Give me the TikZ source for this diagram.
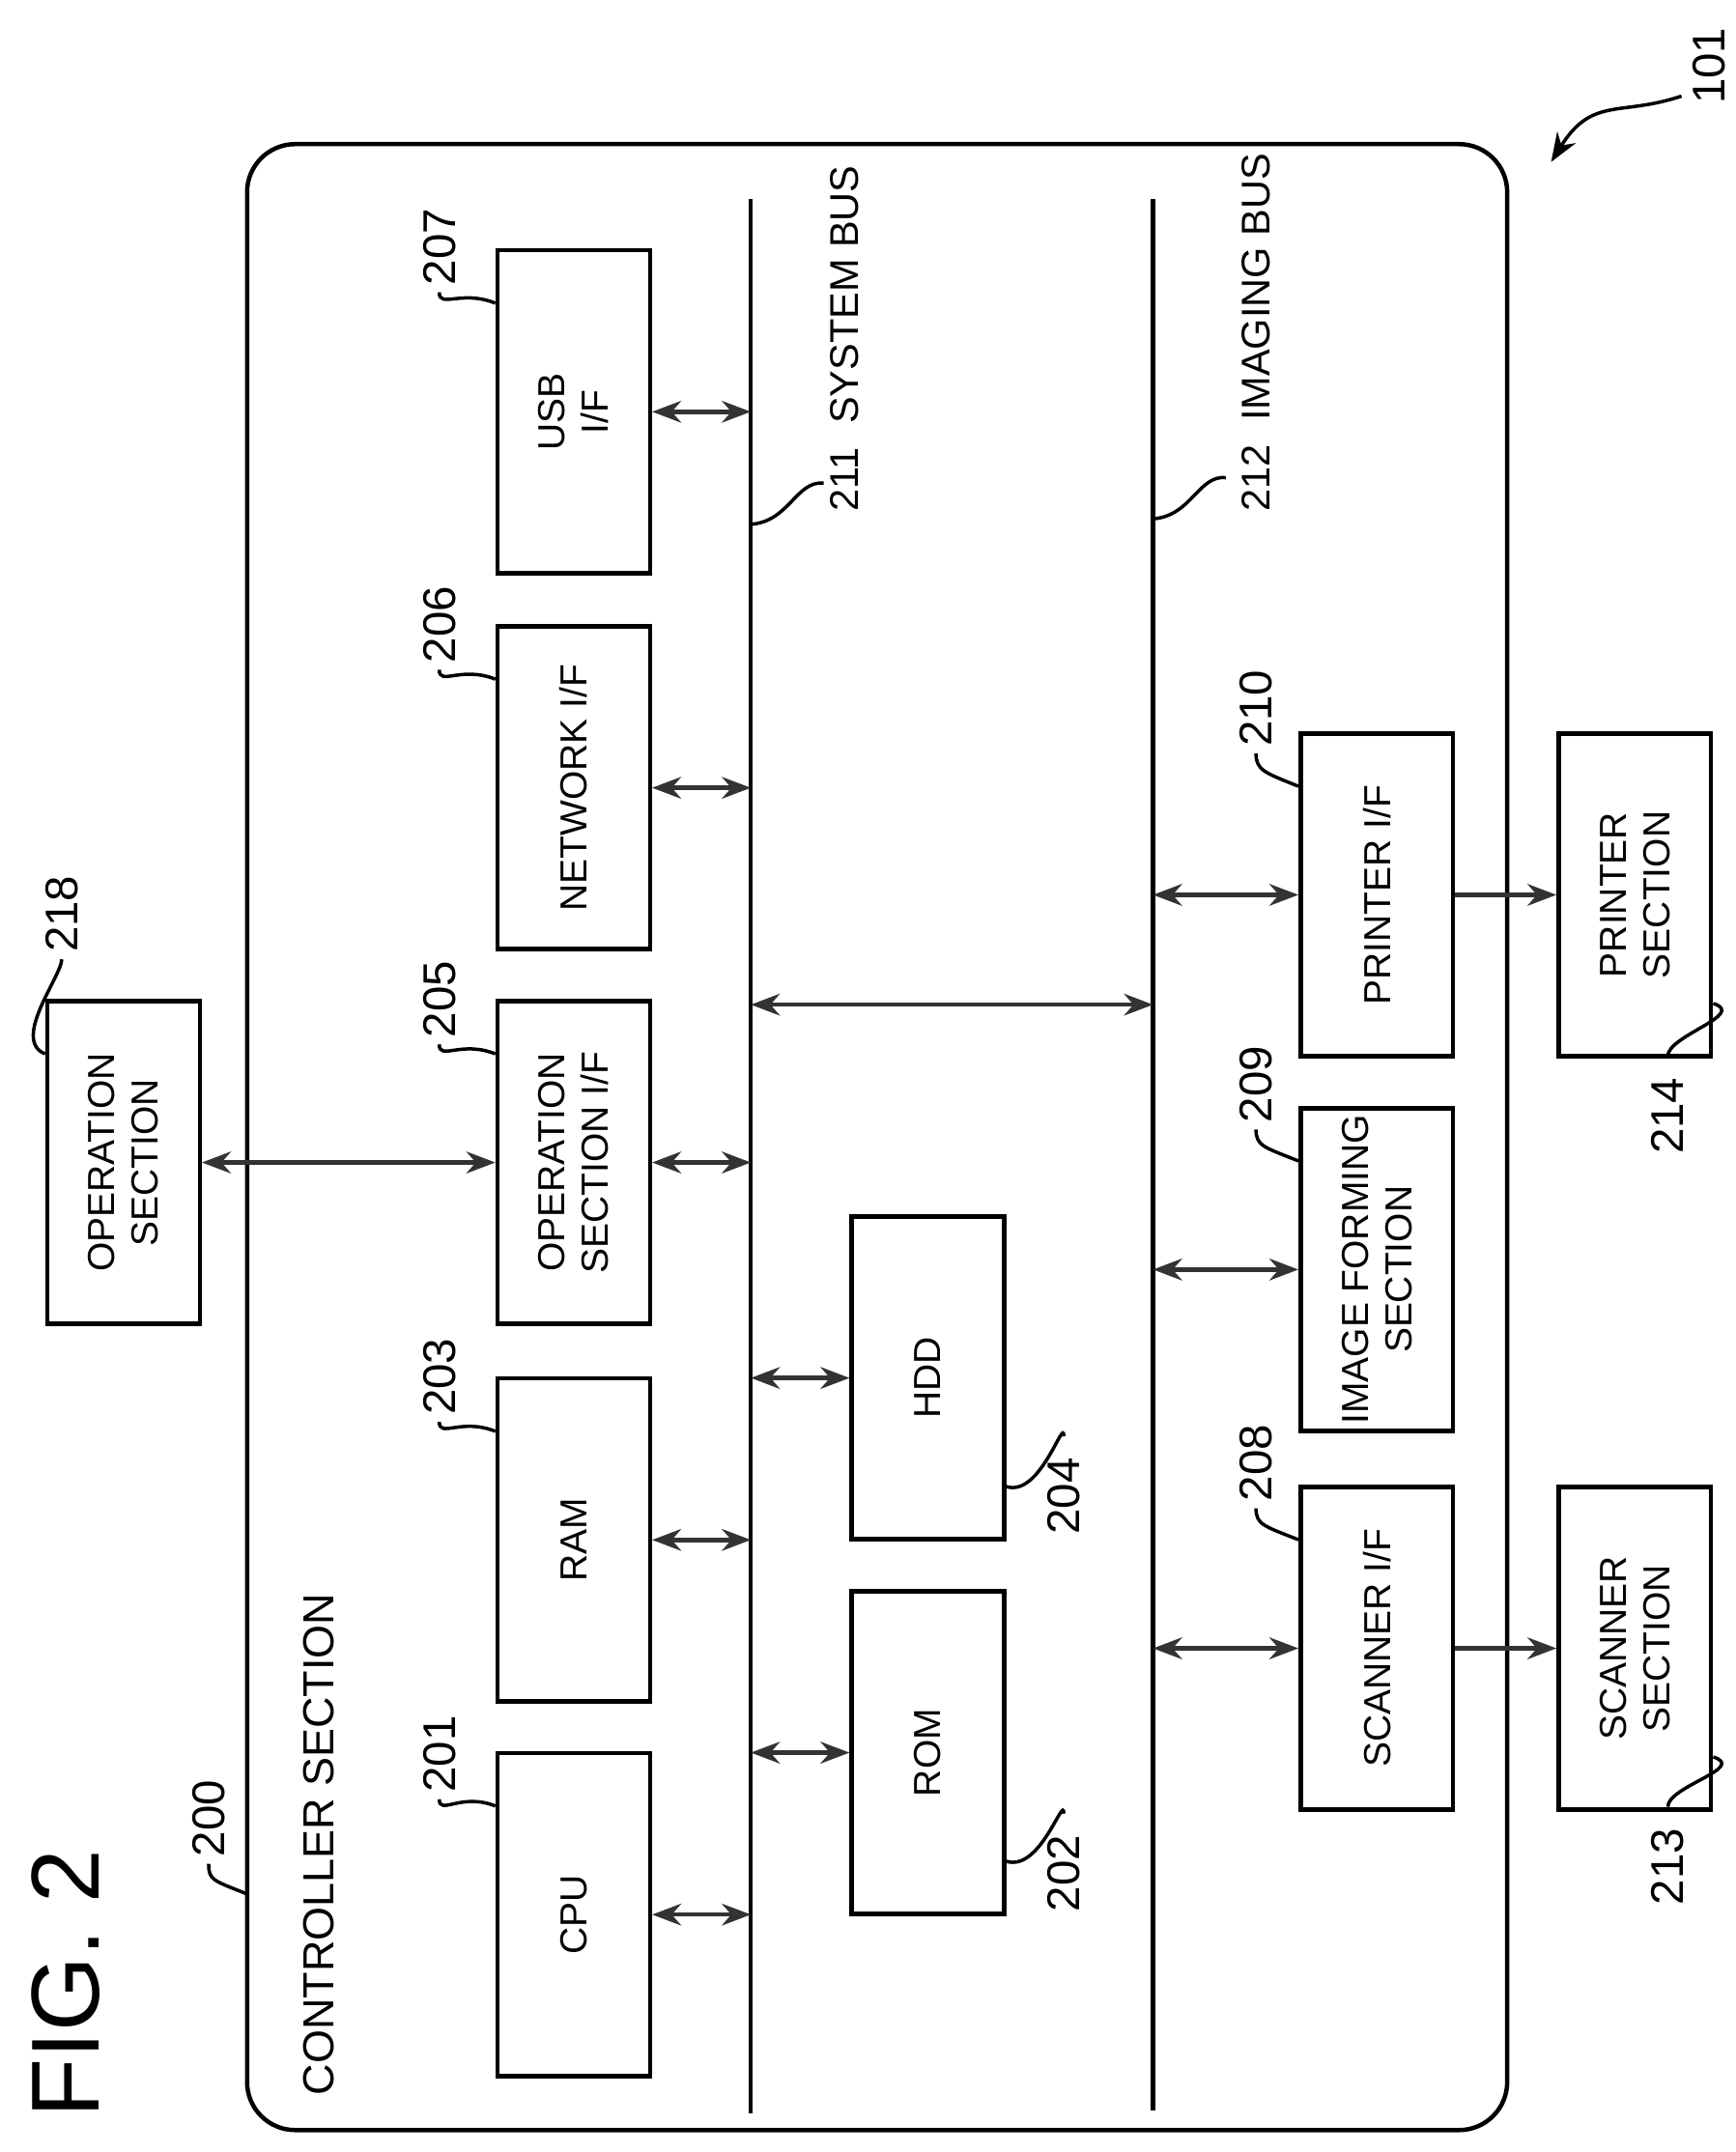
\documentclass[tikz,border=0pt]{standalone}
\usepackage{fontspec}
\setmainfont{Liberation Sans}
\usetikzlibrary{arrows.meta}

\begin{document}
\begin{tikzpicture}[x=0.01cm,y=-0.01cm,line width=0.9pt,
  box/.style={draw,rotate=90,minimum width=2.35cm,minimum height=1.11cm,align=center,font=\fontsize{7.8}{9}\selectfont,inner sep=0pt},
  lbl/.style={rotate=90,font=\fontsize{9.5}{10}\selectfont,inner sep=1pt},
  biarrow/.style={{Stealth[length=6pt,width=4.5pt]}-{Stealth[length=6pt,width=4.5pt]},draw=black!80},
  onearrow/.style={-{Stealth[length=6pt,width=4.5pt]},draw=black!80},
  leader/.style={line width=0.7pt}]
\useasboundingbox (0,0) rectangle (1264,1568);
% frame and buses
\draw[rounded corners=0.35cm] (180,105) rectangle (1098,1552);
\coordinate (sb1) at (547,145); \coordinate (sb2) at (547,1540);
\coordinate (ib1) at (840,145); \coordinate (ib2) at (840,1538);
\draw (sb1) -- (sb2);
\draw (ib1) -- (ib2);
% blocks
\node[box] (cpu) at (418,1395) {CPU};
\node[box] (ram) at (418,1122) {RAM};
\node[box] (opif) at (418,847) {OPERATION\\SECTION I/F};
\node[box] (net) at (418,574) {NETWORK I/F};
\node[box] (usb) at (418,300) {USB\\I/F};
\node[box] (rom) at (676,1277) {ROM};
\node[box] (hdd) at (676,1004) {HDD};
\node[box] (scif) at (1003,1201) {SCANNER I/F};
\node[box] (imf) at (1003,925) {IMAGE FORMING\\SECTION};
\node[box] (prif) at (1003,652) {PRINTER I/F};
\node[box] (prs) at (1191,652) {PRINTER\\SECTION};
\node[box] (scs) at (1191,1201) {SCANNER\\SECTION};
\node[box] (ops) at (90,847) {OPERATION\\SECTION};
% connections
\foreach \n in {cpu,ram,opif,net,usb}
  \draw[biarrow] (\n.south) -- (\n.south -| sb1);
\foreach \n in {rom,hdd}
  \draw[biarrow] (\n.north -| sb1) -- (\n.north);
\foreach \n in {scif,imf,prif}
  \draw[biarrow] (\n.north -| ib1) -- (\n.north);
\coordinate (bb) at (0,732);
\draw[biarrow] (bb -| sb1) -- (bb -| ib1);
\draw[onearrow] (prif.south) -- (prs.north);
\draw[onearrow] (scif.south) -- (scs.north);
\draw[biarrow] (ops.south) -- (opif.north);
% texts
\node[rotate=90,font=\fontsize{20}{22}\selectfont] (fig) at (48,1445) {FIG. 2};
\node[rotate=90,anchor=west,font=\fontsize{9}{10}\selectfont] (ctl) at (232,1540) {CONTROLLER SECTION};
\node[lbl] (n200) at (152,1325) {200};
\draw[leader] (n200.west) .. controls +(0,12) and +(-25,-10) .. (180,1380);
\node[lbl] (n201) at (320,1278) {201};
\node[lbl] (n203) at (320,1003) {203};
\node[lbl] (n205) at (320,728) {205};
\node[lbl] (n206) at (320,455) {206};
\node[lbl] (n207) at (320,180) {207};
\node[lbl] (n218) at (45,666) {218};
\node[lbl] (n208) at (915,1066) {208};
\node[lbl] (n209) at (915,790) {209};
\node[lbl] (n210) at (915,516) {210};
\foreach \n/\b in {n201/cpu,n203/ram,n205/opif,n206/net,n207/usb,n218/ops,n208/scif,n209/imf,n210/prif}
  \draw[leader] (\n.west) .. controls +(0,12) and +(-25,-10) .. ([yshift=-0.4cm]\b.north east);
\node[lbl] (n202) at (775,1365) {202};
\node[lbl] (n204) at (775,1090) {204};
\node[lbl] (n213) at (1215,1360) {213};
\node[lbl] (n214) at (1215,813) {214};
\foreach \n/\b in {n202/rom,n204/hdd,n213/scs,n214/prs}
  \draw[leader] ([yshift=0.4cm]\b.south west) .. controls +(25,8) and +(0,-15) .. ([yshift=3pt]\n.east);
\node[lbl,anchor=west,font=\fontsize{8.3}{9}\selectfont] (sbl) at (615,378) {211\hspace{0.6em}SYSTEM BUS};
\node[lbl,anchor=west,font=\fontsize{8.3}{9}\selectfont] (ibl) at (915,378) {212\hspace{0.6em}IMAGING BUS};
\draw[leader] (547,382) .. controls (575,380) and (580,350) .. (600,352);
\draw[leader] (840,378) .. controls (868,376) and (873,346) .. (893,348);
\node[lbl] (n101) at (1245,48) {101};
\draw[leader,-{Stealth[length=6pt,width=4.5pt]}] (1225,70) .. controls (1180,85) and (1160,70) .. (1130,118);
\end{tikzpicture}
\end{document}
